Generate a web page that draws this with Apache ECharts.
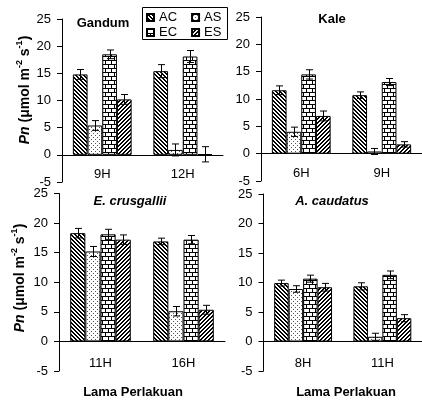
<!DOCTYPE html>
<html>
<head>
<meta charset="utf-8">
<script src="https://cdn.jsdelivr.net/npm/echarts@6/dist/echarts.min.js"></script>
<style>
  html, body { margin: 0; padding: 0; background: #fff; }
  #main { width: 422px; height: 405px; }
</style>
</head>
<body>
<div id="main"></div>
<script>
// data (mean and error per treatment)
var treatments = ['AC', 'AS', 'EC', 'ES'];

var gandumCats = ['9H', '12H'];
var gandumMean = [[14.8, 15.4], [5.4, 0.9], [18.5, 18.1], [10.2, 0.1]];
var gandumErr  = [[0.9, 1.2], [0.9, 1.1], [0.8, 1.1], [0.9, 1.4]];

var kaleCats = ['6H', '9H'];
var kaleMean = [[11.6, 10.7], [4.0, 0.4], [14.5, 13.1], [6.9, 1.7]];
var kaleErr  = [[0.8, 0.6], [0.85, 0.55], [0.85, 0.65], [0.9, 0.5]];

var crusCats = ['11H', '16H'];
var crusMean = [[18.3, 16.9], [15.2, 5.1], [18.1, 17.2], [17.2, 5.35]];
var crusErr  = [[0.8, 0.55], [0.85, 0.8], [0.85, 0.7], [0.8, 0.75]];

var caudCats = ['8H', '11H'];
var caudMean = [[9.9, 9.35], [8.9, 0.8], [10.65, 11.3], [9.2, 3.95]];
var caudErr  = [[0.5, 0.6], [0.55, 0.6], [0.6, 0.65], [0.65, 0.6]];

var yTicks = { min: -5, max: 25, interval: 5 };

var FONT = "'Liberation Sans', Arial, sans-serif";
var GAP = 0.27; // barCategoryGap

// hatch patterns drawn on little canvases
function tile(w, h, draw) {
    var c = document.createElement('canvas');
    c.width = w; c.height = h;
    var ctx = c.getContext('2d');
    ctx.fillStyle = '#fff';
    ctx.fillRect(0, 0, w, h);
    ctx.fillStyle = '#000';
    draw(ctx);
    return { image: c, repeat: 'repeat' };
}
var patAC = tile(4, 4, function (ctx) {   // dense "\\\\"
    for (var i = 0; i < 4; i++) {
        ctx.fillRect(i, i, 1, 1);
        ctx.fillRect((i + 1) % 4, i, 1, 1);
    }
});
var patAS = tile(4, 4, function (ctx) {   // sparse dots
    ctx.fillStyle = '#555';
    ctx.fillRect(1, 1, 1, 1);
    ctx.fillRect(3, 3, 1, 1);
});
var patEC = tile(12, 8, function (ctx) {  // bricks
    ctx.fillRect(0, 0, 12, 1);
    ctx.fillRect(0, 4, 12, 1);
    ctx.fillRect(0, 0, 1, 4);
    ctx.fillRect(6, 0, 1, 4);
    ctx.fillRect(3, 4, 1, 4);
    ctx.fillRect(9, 4, 1, 4);
});
var patES = tile(4, 4, function (ctx) {   // "////"
    for (var i = 0; i < 4; i++) {
        ctx.fillRect(3 - i, i, 1, 1);
        ctx.fillRect((4 - i) % 4, i, 1, 1);
    }
});
var patterns = [patAC, patAS, patEC, patES];

var panels = [
    { cats: gandumCats, mean: gandumMean, err: gandumErr, grid: { left: 62, top: 19, width: 161, height: 163 } },
    { cats: kaleCats,   mean: kaleMean,   err: kaleErr,   grid: { left: 261, top: 17, width: 164, height: 164 } },
    { cats: crusCats,   mean: crusMean,   err: crusErr,   grid: { left: 59, top: 193.5, width: 166, height: 177.5 } },
    { cats: caudCats,   mean: caudMean,   err: caudErr,   grid: { left: 263.5, top: 194, width: 165, height: 177 } }
];

function renderErr(params, api) {
    var cat = api.value(0), k = api.value(1), m = api.value(2), e = api.value(3);
    var catW = api.size([1, 0])[0];
    var bw = catW * (1 - GAP) / 4;
    var c = api.coord([cat, m]);
    var x = Math.round(c[0] - 2 * bw + (k + 0.5) * bw) + 0.5;
    var yt = api.coord([cat, m + e])[1];
    var yb = api.coord([cat, m - e])[1];
    var st = { stroke: '#000', lineWidth: 1 };
    return {
        type: 'group',
        children: [
            { type: 'line', shape: { x1: x, y1: yt, x2: x, y2: yb }, style: st },
            { type: 'line', shape: { x1: x - 3.5, y1: yt, x2: x + 3.5, y2: yt }, style: st },
            { type: 'line', shape: { x1: x - 3.5, y1: yb, x2: x + 3.5, y2: yb }, style: st }
        ]
    };
}

var grids = [], xAxes = [], yAxes = [], series = [];
panels.forEach(function (p, gi) {
    grids.push(p.grid);
    xAxes.push({
        type: 'category', gridIndex: gi, data: p.cats,
        axisLine: { onZero: true, lineStyle: { color: '#000', width: 1 } },
        axisTick: { length: 4, lineStyle: { color: '#000' } },
        // labels sit just under the zero line, like the original
        axisLabel: { color: '#000', fontSize: 13, fontFamily: FONT, margin: -14 },
        splitLine: { show: false }
    });
    yAxes.push({
        type: 'value', gridIndex: gi, min: yTicks.min, max: yTicks.max, interval: yTicks.interval,
        axisLine: { show: true, lineStyle: { color: '#000', width: 1 } },
        axisTick: { show: true, length: 5, lineStyle: { color: '#000' } },
        axisLabel: { color: '#000', fontSize: 13, fontFamily: FONT, margin: 11 },
        splitLine: { show: false }
    });
    treatments.forEach(function (t, k) {
        series.push({
            name: t, type: 'bar', xAxisIndex: gi, yAxisIndex: gi,
            data: p.mean[k], barGap: '0%', barCategoryGap: (GAP * 100) + '%',
            itemStyle: { color: patterns[k], borderColor: '#000', borderWidth: 1 },
            emphasis: { disabled: true }
        });
    });
    var errData = [];
    treatments.forEach(function (t, k) {
        p.cats.forEach(function (c, ci) {
            errData.push([ci, k, p.mean[k][ci], p.err[k][ci]]);
        });
    });
    series.push({
        type: 'custom', xAxisIndex: gi, yAxisIndex: gi, z: 10,
        renderItem: renderErr, encode: { x: 0, y: 2 }, data: errData, clip: false,
        silent: true
    });
});

function label(text, x, y, opts) {
    var st = {
        text: text, x: x, y: y, fill: '#000',
        font: (opts && opts.font) || ('bold 13px ' + FONT),
        textAlign: 'center', textVerticalAlign: 'middle',
        align: 'center', verticalAlign: 'middle'
    };
    if (opts && opts.rich) st.rich = opts.rich;
    var el = { type: 'text', style: st, z: 20 };
    if (opts && opts.rotation) {
        el.x = x; el.y = y; el.rotation = opts.rotation;
        st.x = 0; st.y = 0;
    }
    return el;
}

var nameRich = {
    i: { fontFamily: FONT, fontSize: 14, fontWeight: 'bold', fontStyle: 'italic', lineHeight: 17, verticalAlign: 'bottom' },
    b: { fontFamily: FONT, fontSize: 14, fontWeight: 'bold', lineHeight: 17, verticalAlign: 'bottom' },
    s: { fontFamily: FONT, fontSize: 9, fontWeight: 'bold', lineHeight: 17, verticalAlign: 'top' }
};
var nameText = '{i|Pn}{b| (μmol m}{s|-2}{b| s}{s|-1}{b|)}';

var legendCommon = {
    icon: 'rect', itemWidth: 7, itemHeight: 7, itemGap: 14,
    textStyle: { color: '#000', fontSize: 13, fontFamily: FONT },
    padding: 0, selectedMode: false
};

var option = {
    animation: false,
    backgroundColor: '#fff',
    grid: grids,
    xAxis: xAxes,
    yAxis: yAxes,
    legend: [
        Object.assign({ data: ['AC', 'AS'], left: 146, top: 11 }, legendCommon),
        Object.assign({ data: ['EC', 'ES'], left: 146, top: 26 }, legendCommon)
    ],
    graphic: [
        { type: 'rect', shape: { x: 142.5, y: 7.5, width: 85, height: 32 }, style: { fill: null, stroke: '#000', lineWidth: 1 }, z: 15 },
        label('Gandum', 103, 23),
        label('Kale', 332, 19),
        label('E. crusgallii', 130, 201, { font: 'italic bold 13px ' + FONT }),
        label('A. caudatus', 332, 201, { font: 'italic bold 13px ' + FONT }),
        label('Lama Perlakuan', 133, 392),
        label('Lama Perlakuan', 346, 392),
        label(nameText, 24, 90, { rotation: Math.PI / 2, rich: nameRich }),
        label(nameText, 19, 278, { rotation: Math.PI / 2, rich: nameRich })
    ],
    series: series
};

var chart = echarts.init(document.getElementById('main'), null, { renderer: 'canvas' });
chart.setOption(option);
</script>
</body>
</html>
